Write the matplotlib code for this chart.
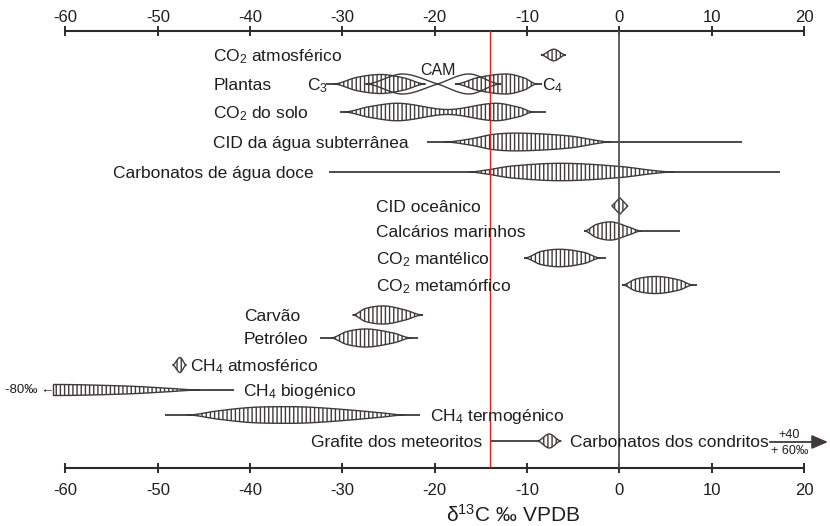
import numpy as np
import matplotlib
matplotlib.use("Agg")
import matplotlib.pyplot as plt

plt.rcParams['font.family'] = ['Liberation Sans', 'DejaVu Sans']
plt.rcParams['mathtext.default'] = 'regular'
plt.rcParams['axes.unicode_minus'] = False
plt.rcParams['hatch.linewidth'] = 1.0
INK = '#403a3a'
TXT = '#1e1e1e'
plt.rcParams['hatch.color'] = INK

# ---------------- data (δ13C ‰ VPDB) ----------------
XTICKS = [-60, -50, -40, -30, -20, -10, 0, 10, 20]
XTICKLABELS = ['-60', '-50', '-40', '-30', '-20', '-10', '0', '10', '20']
PDB_LINE = 0
RED_LINE = -14

# spindle profiles: knots along δ13C and relative thickness at each knot
co2_atm_d = [-8.5, -7.1, -5.8];                    co2_atm_w = [0, 5.8, 0]
c3_d = [-31.0, -28.5, -25.8, -23.3, -21.0];        c3_w = [0, 6.5, 9.5, 6, 0]
c4_d = [-17.8, -15.3, -12.2, -10.3, -8.9];         c4_w = [0, 6.5, 10, 6, 0]
cam_d = [-27.5, -23.5, -19.7, -16.3, -12.8];       cam_w = [0, 10, 0, -10, 0]
solo_d = [-29.9, -27.0, -23.8, -18.6, -13.5, -10.8, -9.3]
solo_w = [0, 5.5, 8.7, 2.5, 8.7, 4.5, 0]
cid_sub_d = [-19.0, -16.2, -13.5, -10.5, -5.4, -2.4, -1.0]
cid_sub_w = [0, 3, 7.8, 8.8, 6, 1.5, 0]
carb_doce_d = [-16.3, -14.4, -11.6, -6.2, 0.1, 3.7, 5.9]
carb_doce_w = [0, 2, 6, 8.7, 5.5, 1.5, 0]
cid_oc_d = [-0.8, 0.05, 0.9];                      cid_oc_w = [0, 8.3, 0]
calc_d = [-3.8, -2.5, -0.8, 1.0, 2.4];             calc_w = [0, 6.5, 9, 4, 0]
mant_d = [-10.3, -8.5, -6.3, -3.8, -2.0];          mant_w = [0, 6.5, 8.7, 5.5, 0]
meta_d = [0.3, 1.8, 4.1, 6.5, 8.0];                meta_w = [0, 6, 8.5, 5, 0]
carvao_d = [-28.9, -27.5, -25.4, -23.2, -21.3];    carvao_w = [0, 6.5, 9, 5, 0]
petr_d = [-31.3, -29.5, -27.3, -24.5, -22.5];      petr_w = [0, 6.5, 9, 5, 0]
ch4_atm_d = [-48.4, -47.6, -46.9];                 ch4_atm_w = [0, 7.5, 0]
ch4_bio_d = [-61.3, -53.3, -49.0, -45.4];          ch4_bio_w = [5.5, 3.9, 1.8, 0]
ch4_term_d = [-46.8, -43.6, -40.0, -36.5, -33.5, -29.2, -25.6, -23.3]
ch4_term_w = [0, 4, 7.5, 8.3, 7.8, 5, 2, 0]
graf_d = [-8.9, -7.6, -6.3];                       graf_w = [0, 7, 0]

# full extent lines (min, max)
c3_range = (-31.8, -26.0)
c4_range = (-12.0, -8.4)
solo_range = (-30.3, -8.0)
cid_sub_range = (-20.8, 13.3)
carb_doce_range = (-31.5, 17.4)
calc_range = (-1.0, 6.6)
mant_range = (-6.0, -1.4)
meta_range = (4.0, 8.4)
petr_range = (-32.4, -21.8)
ch4_bio_range = (-50.0, -41.8)
ch4_term_range = (-49.2, -21.6)
graf_range = (-14.0, -7.6)
condritos_range = (16.3, 22.6)   # +40 to +60 ‰, off scale

labels = ['CO$_2$ atmosférico', 'Plantas', 'CO$_2$ do solo', 'CID da água subterrânea',
          'Carbonatos de água doce', 'CID oceânico', 'Calcários marinhos',
          'CO$_2$ mantélico', 'CO$_2$ metamórfico', 'Carvão', 'Petróleo',
          'CH$_4$ atmosférico', 'CH$_4$ biogénico', 'CH$_4$ termogénico',
          'Grafite dos meteoritos']

# ---------------- layout ----------------
W, H = 830, 526
X0, X1 = 65.5, 804.0
Y_TOP, Y_BOT = 31, 468
ROW_Y = [55, 84, 112, 142, 172, 206, 231, 258, 285, 315, 338, 365, 390, 415, 441]
LABEL_X = [-44.0, -44.0, -44.0, -44.0, -54.9, -26.4, -26.4, -26.4, -26.4,
           -40.7, -40.7, -46.5, -40.8, -20.5, -14.9]
LABEL_HA = ['left'] * 14 + ['right']
FS = 12.5

fig = plt.figure(figsize=(W / 100, H / 100), dpi=100)
fig.patch.set_facecolor('white')
ax = fig.add_axes([X0 / W, 1 - Y_BOT / H, (X1 - X0) / W, (Y_BOT - Y_TOP) / H])
ax.set_xlim(XTICKS[0], XTICKS[-1])
ax.set_ylim(Y_BOT, Y_TOP)
ax.set_yticks([])
for s in ['left', 'right', 'top']:
    ax.spines[s].set_visible(False)
ax.spines['bottom'].set_linewidth(1.5)
ax.spines['bottom'].set_color('#2a2a2a')
ax.set_xticks(XTICKS, labels=XTICKLABELS)
ax.tick_params(axis='x', direction='inout', length=7, width=1.3, pad=7.5,
               labelsize=12, colors=TXT)

sec = ax.secondary_xaxis('top')
sec.set_xticks(XTICKS, labels=XTICKLABELS)
sec.tick_params(axis='x', direction='inout', length=7, width=1.3, pad=1,
                labelsize=12, colors=TXT)
sec.spines['top'].set_linewidth(1.5)
sec.spines['top'].set_color('#2a2a2a')


def profile(xk, hk, kind):
    xk = np.asarray(xk, float)
    hk = np.asarray(hk, float)
    xs = np.linspace(xk[0], xk[-1], 600)
    hs = np.zeros_like(xs)
    n = len(xk)
    slopes = np.zeros(n)
    for i in range(1, n - 1):
        slopes[i] = (hk[i + 1] - hk[i - 1]) / (xk[i + 1] - xk[i - 1])
    for i in range(n - 1):
        a, b = xk[i], xk[i + 1]
        m = (xs >= a) & (xs <= b)
        t = (xs[m] - a) / (b - a)
        if kind == 'linear':
            hs[m] = hk[i] + (hk[i + 1] - hk[i]) * t
        else:
            dx = b - a
            h00 = 2 * t**3 - 3 * t**2 + 1
            h10 = t**3 - 2 * t**2 + t
            h01 = -2 * t**3 + 3 * t**2
            h11 = t**3 - t**2
            hs[m] = h00 * hk[i] + h10 * dx * slopes[i] + h01 * hk[i + 1] + h11 * dx * slopes[i + 1]
    return xs, hs


def spindle(xk, hk, y, kind='smooth', hatch='||||', face='white', z=3):
    xs, hs = profile(xk, hk, kind)
    px = np.concatenate([xs, xs[::-1]])
    py = np.concatenate([y - hs, (y + hs)[::-1]])
    ax.fill(px, py, facecolor=face, edgecolor=INK, hatch=hatch, lw=1.0, zorder=z,
            clip_on=False)


def tail(rng, y):
    ax.plot(rng, [y, y], color=INK, lw=1.3, zorder=2, solid_capstyle='butt')


ry = ROW_Y
# lines
tail(c3_range, ry[1]); tail(c4_range, ry[1])
tail(solo_range, ry[2]); tail(cid_sub_range, ry[3]); tail(carb_doce_range, ry[4])
tail(calc_range, ry[6]); tail(mant_range, ry[7]); tail(meta_range, ry[8])
tail(petr_range, ry[10]); tail(ch4_bio_range, ry[12]); tail(ch4_term_range, ry[13])
tail(graf_range, ry[14])

# spindles
spindle(co2_atm_d, co2_atm_w, ry[0])
spindle(c3_d, c3_w, ry[1])
spindle(c4_d, c4_w, ry[1])
spindle(cam_d, cam_w, ry[1], hatch=None, face='none', z=3.5)
spindle(solo_d, solo_w, ry[2])
spindle(cid_sub_d, cid_sub_w, ry[3])
spindle(carb_doce_d, carb_doce_w, ry[4])
spindle(cid_oc_d, cid_oc_w, ry[5], kind='linear')
spindle(calc_d, calc_w, ry[6])
spindle(mant_d, mant_w, ry[7])
spindle(meta_d, meta_w, ry[8])
spindle(carvao_d, carvao_w, ry[9])
spindle(petr_d, petr_w, ry[10])
spindle(ch4_atm_d, ch4_atm_w, ry[11])
spindle(ch4_bio_d, ch4_bio_w, ry[12])
spindle(ch4_term_d, ch4_term_w, ry[13])
spindle(graf_d, graf_w, ry[14])

# reference lines
ax.axvline(PDB_LINE, color='#555555', lw=1.3, zorder=4)
ax.axvline(RED_LINE, color='#e5221e', lw=1.0, zorder=5)

# labels
for lab, lx, ha, y in zip(labels, LABEL_X, LABEL_HA, ROW_Y):
    ax.text(lx, y + 6, lab, ha=ha, va='baseline', fontsize=FS, color=TXT, zorder=6)
ax.text(-33.8, ry[1] + 6, 'C$_3$', ha='left', va='baseline', fontsize=FS, color=TXT, zorder=6)
ax.text(-8.4, ry[1] + 6, 'C$_4$', ha='left', va='baseline', fontsize=FS, color=TXT, zorder=6)
ax.text(-19.7, ry[1] - 9, 'CAM', ha='center', va='baseline', fontsize=11.5, color=TXT, zorder=6)
ax.text(-5.4, ry[14] + 6, 'Carbonatos dos condritos', ha='left', va='baseline',
        fontsize=FS, color=TXT, zorder=6)
ax.text(-66.6, ry[12], '-80‰ ←', ha='left', va='center', fontsize=9.5, color=TXT,
        clip_on=False, zorder=6)
ax.text(18.4, ry[14] - 6, '+40', ha='center', va='center', fontsize=9, color=TXT,
        clip_on=False, zorder=6)
ax.text(18.4, ry[14] + 10, '+ 60‰', ha='center', va='center', fontsize=9, color=TXT,
        clip_on=False, zorder=6)
ax.annotate('', xy=(condritos_range[1], ry[14] + 1), xytext=(condritos_range[0], ry[14] + 1),
            arrowprops=dict(arrowstyle='-|>,head_length=0.7,head_width=0.3', color=INK,
                            lw=1.3, mutation_scale=14, shrinkA=0, shrinkB=0),
            annotation_clip=False, zorder=6)

fig.text(513 / W, 1 - 515 / H, 'δ$^{13}$C ‰ VPDB', ha='center', va='center',
         fontsize=15, color=TXT)

fig.savefig('out.png', dpi=100, facecolor='white')
